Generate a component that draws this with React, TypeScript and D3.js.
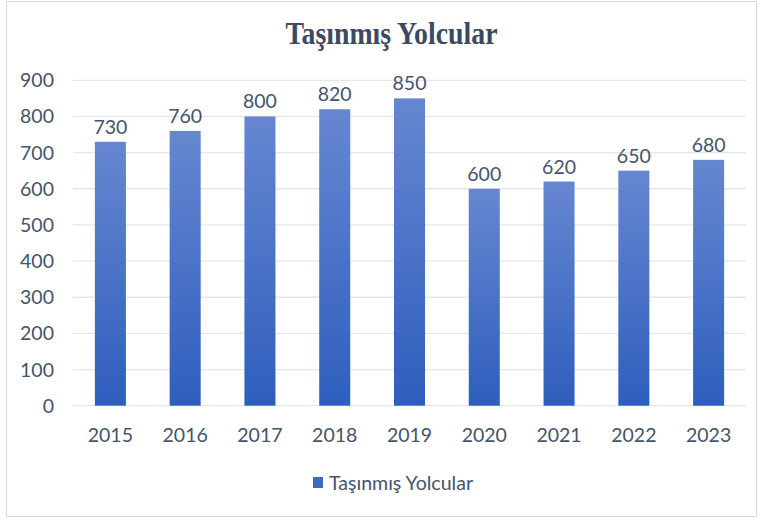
import React from "react";
import * as d3 from "d3";

const categories = ["2015", "2016", "2017", "2018", "2019", "2020", "2021", "2022", "2023"];
const values = [730, 760, 800, 820, 850, 600, 620, 650, 680];
const yTicks = [0, 100, 200, 300, 400, 500, 600, 700, 800, 900];
const title = "Taşınmış Yolcular";
const seriesName = "Taşınmış Yolcular";

const W = 762;
const H = 520;
const left = 73;
const right = 746;
const top = 80.3;
const bottom = 405.7;
const textColor = "#44546A";
const font = "Lato, 'Open Sans', sans-serif";

export default function App() {
  const x = d3.scaleBand<string>().domain(categories).range([left, right]).paddingInner(0.585).paddingOuter(0.2925);
  const y = d3.scaleLinear().domain([0, 900]).range([bottom, top]);
  return (
    <svg width={W} height={H} style={{ position: "absolute", left: 0, top: 0 }}>
      <defs>
        <linearGradient id="barGrad" x1="0" y1="0" x2="0" y2="1">
          <stop offset="0%" stopColor="#6687d0" />
          <stop offset="100%" stopColor="#2e5ebd" />
        </linearGradient>
      </defs>
      <rect x={0} y={0} width={W} height={H} fill="#fff" />
      <rect x={6.5} y={1.5} width={750} height={515} fill="none" stroke="#d9d9d9" strokeWidth={1} />
      <text x={391.5} y={43.5} textAnchor="middle" fontFamily="'Liberation Serif', 'Times New Roman', serif" fontWeight="bold" fontSize={31} fill="#3b4a60" textLength={212} lengthAdjust="spacingAndGlyphs">
        {title}
      </text>
      {yTicks.map((t) => (
        <g key={t}>
          <line x1={left} x2={right} y1={y(t)} y2={y(t)} stroke="#e3e6ea" strokeWidth={1.3} />
          <text x={54} y={y(t)} dy="0.36em" textAnchor="end" fontFamily={font} fontSize={19.5} fill={textColor}>
            {t}
          </text>
        </g>
      ))}
      {categories.map((c, i) => (
        <g key={c}>
          <rect x={x(c)} y={y(values[i])} width={x.bandwidth()} height={y(0) - y(values[i])} fill="url(#barGrad)" />
          <text x={(x(c) as number) + x.bandwidth() / 2} y={y(values[i]) - 8} textAnchor="middle" fontFamily={font} fontSize={19.5} fill={textColor}>
            {values[i]}
          </text>
          <text x={(x(c) as number) + x.bandwidth() / 2} y={442} textAnchor="middle" fontFamily={font} fontSize={19.5} fill={textColor}>
            {c}
          </text>
        </g>
      ))}
      <rect x={313} y={477} width={10} height={11} fill="#3f69c5" />
      <text x={329} y={490} fontFamily={font} fontSize={19} fill={textColor} textLength={144} lengthAdjust="spacingAndGlyphs">
        {seriesName}
      </text>
    </svg>
  );
}
